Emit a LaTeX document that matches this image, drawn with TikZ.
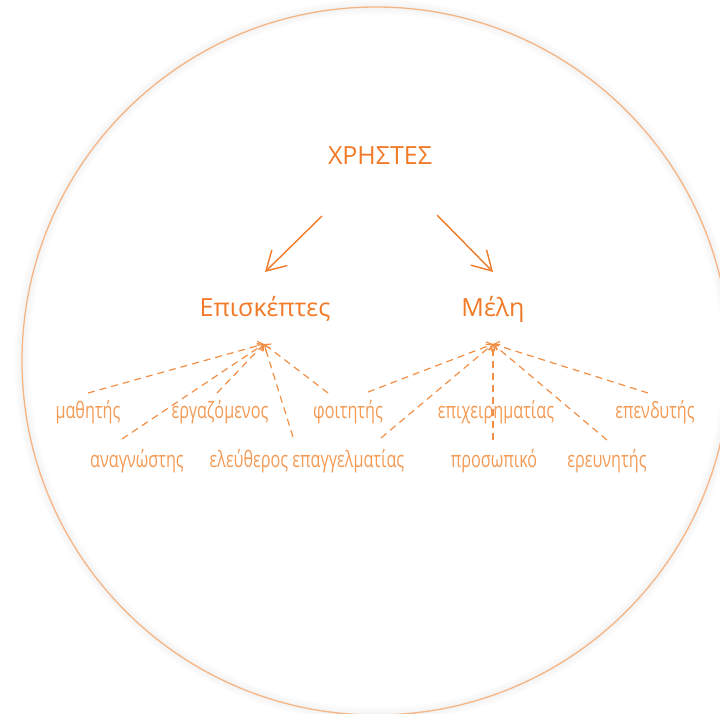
\documentclass[tikz,border=0pt]{standalone}
\usepackage{fontspec}
\setmainfont{Open Sans}
\newfontfamily\condfont[FakeStretch=0.72]{Open Sans}
\usetikzlibrary{arrows.meta}
\definecolor{orng}{HTML}{F07A28}
\definecolor{lorng}{HTML}{F39A55}
\definecolor{dorng}{HTML}{F38E45}
\definecolor{circ}{HTML}{F6B585}
\tikzset{
  bigtext/.style={text=orng, inner sep=0pt, font=\fontsize{25}{30}\selectfont},
  leaf/.style={text=lorng, inner sep=0pt, font=\condfont\fontsize{22.5}{26}\selectfont},
  bigarrow/.style={draw=orng, line width=1.4pt, -{Straight Barb[length=19pt,width=22pt,line width=1.4pt]}},
  dashlink/.style={draw=dorng, line width=1.2pt, dash pattern=on 7pt off 5pt, -{Straight Barb[length=5pt,width=9pt,line width=1.2pt]}},
}
\begin{document}
\begin{tikzpicture}[x=1pt,y=-1pt]
\useasboundingbox (0,0) rectangle (720,714);
\foreach \w in {3,7,11,15}{
  \draw[black, opacity=0.012, line width=\w pt] (376,361) circle[radius=354];
}
\draw[circ, line width=1.3pt] (376,361) circle[radius=354];

\node[bigtext] (users) at (380,156) {ΧΡΗΣΤΕΣ};
\node[bigtext] (vis) at (265,309) {Επισκέπτες};
\node[bigtext] (mem) at (493,309) {Μέλη};

\coordinate (a1s) at (322,216);
\coordinate (a1e) at (265,272);
\coordinate (a2s) at (437,215);
\coordinate (a2e) at (493,272);
\draw[bigarrow] (a1s) -- (a1e);
\draw[bigarrow] (a2s) -- (a2e);

\node[leaf] (mathitis) at (88,412) {μαθητής};
\node[leaf] (ergaz) at (220,412) {εργαζόμενος};
\node[leaf] (foit) at (348,412) {φοιτητής};
\node[leaf] (epix) at (496,412) {επιχειρηματίας};
\node[leaf] (epend) at (655,412) {επενδυτής};
\node[leaf] (anagn) at (137,461) {αναγνώστης};
\node[leaf] (eleuth) at (307,461) {ελεύθερος επαγγελματίας};
\node[leaf] (prosop) at (494,461) {προσωπικό};
\node[leaf] (ereun) at (607,461) {ερευνητής};

\coordinate (vap) at (264,344);
\coordinate (map) at (493,344);

\coordinate (e1) at (88,393);
\coordinate (e2) at (122,439);
\coordinate (e3) at (217,393);
\coordinate (e4) at (293,437);
\coordinate (e5) at (328,393);
\coordinate (f1) at (368,392);
\coordinate (f2) at (381,438);
\coordinate (f3) at (493,440);
\coordinate (f4) at (607,440);
\coordinate (f5) at (648,393);

\foreach \e in {e1,e2,e3,e4,e5}{\draw[dashlink] (\e) -- (vap);}
\foreach \e in {f1,f2,f3,f4,f5}{\draw[dashlink] (\e) -- (map);}
\end{tikzpicture}
\end{document}
